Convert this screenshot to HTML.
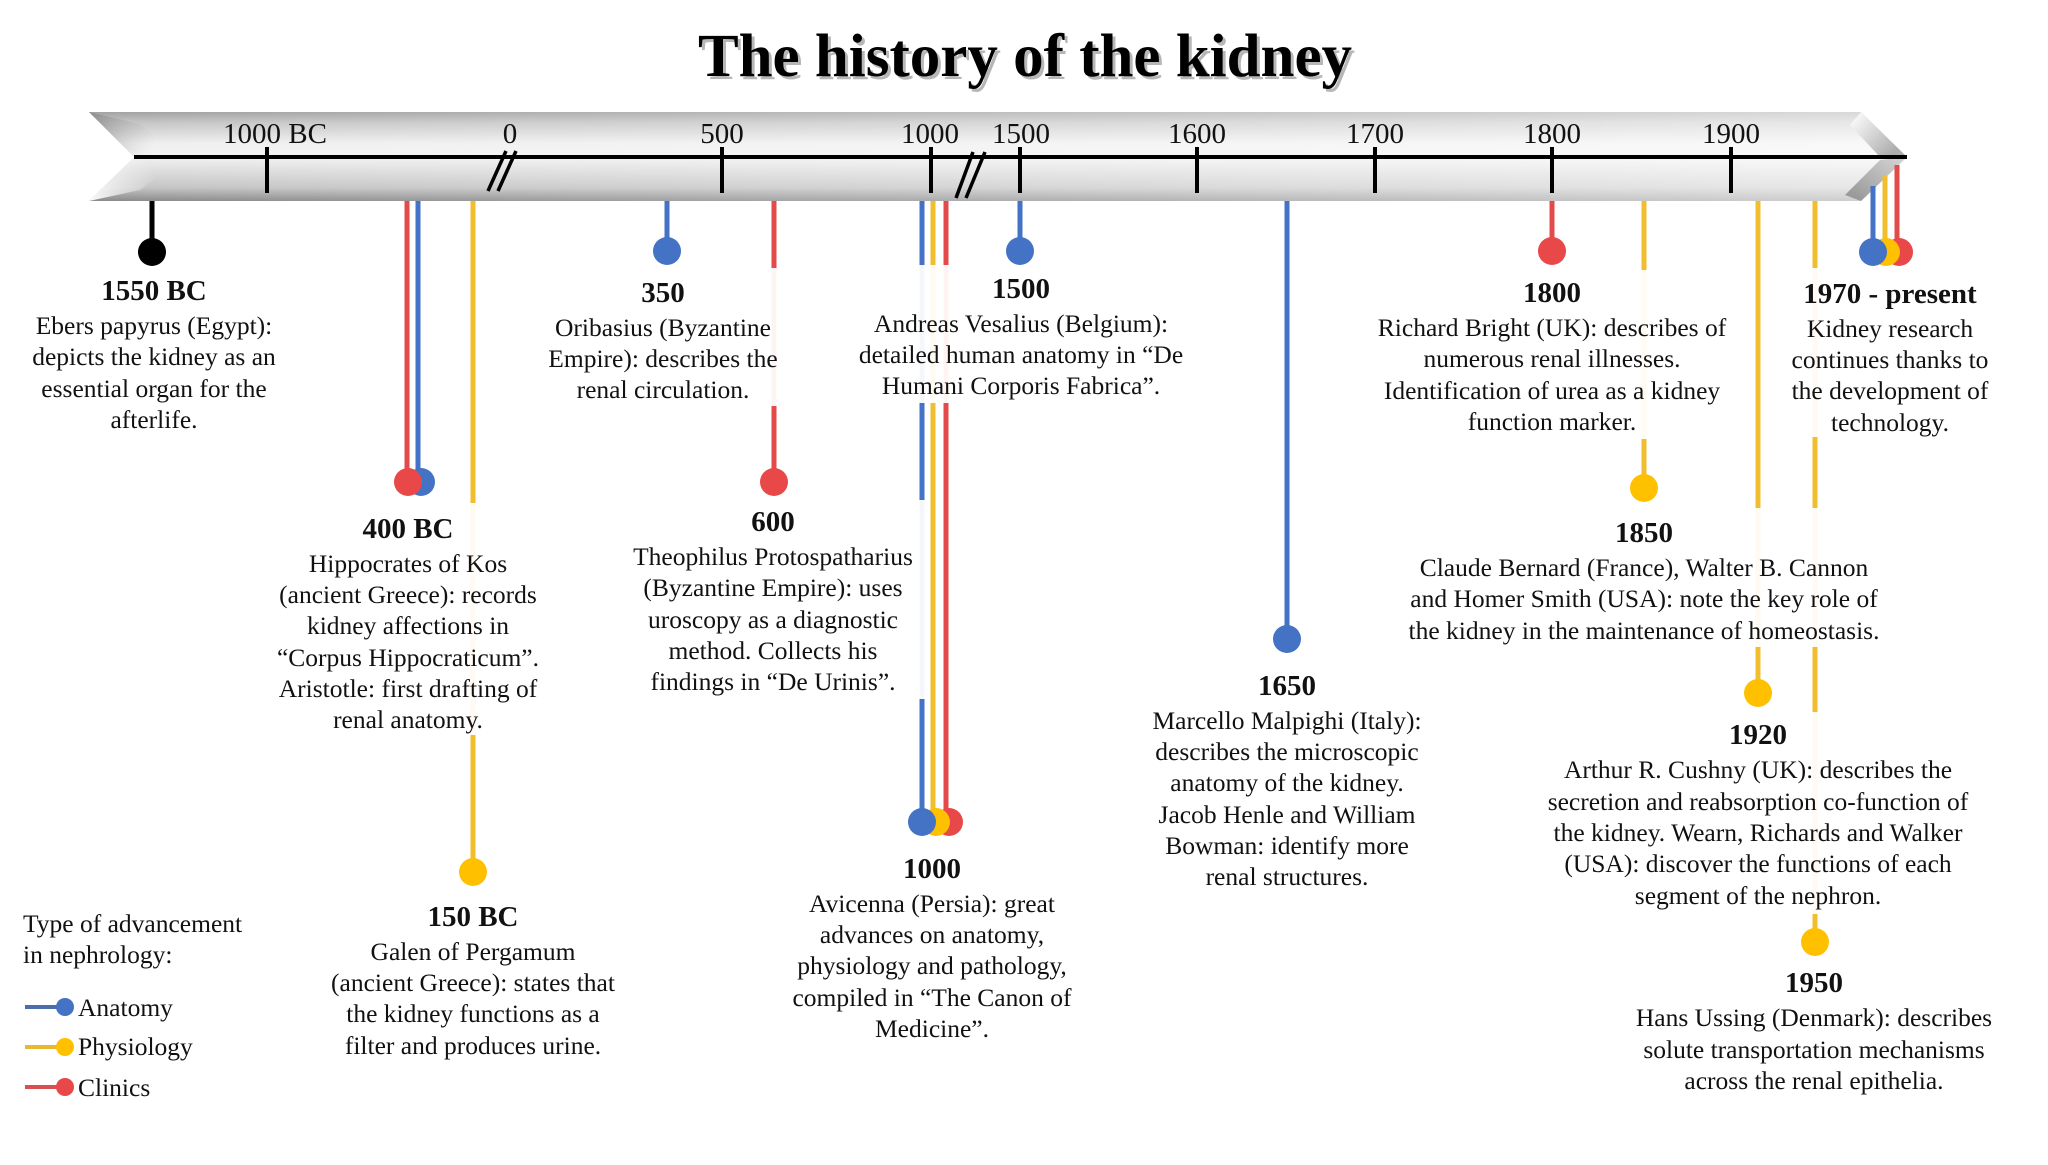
<!DOCTYPE html>
<html>
<head>
<meta charset="utf-8">
<style>
html,body{margin:0;padding:0;background:#fff;}
svg{display:block;}
text{font-family:"Liberation Serif","Times New Roman",serif;fill:#111;}
.t{font-size:25.5px;text-anchor:middle;}
.y{font-size:29px;font-weight:bold;text-anchor:middle;}
.a{font-size:29px;text-anchor:middle;}
.l{font-size:25.5px;}
</style>
</head>
<body>
<svg width="2048" height="1165" viewBox="0 0 2048 1165" xmlns="http://www.w3.org/2000/svg">
<defs>
  <linearGradient id="gv" x1="0" y1="112" x2="0" y2="201" gradientUnits="userSpaceOnUse">
    <stop offset="0" stop-color="#a2a2a2"/>
    <stop offset="0.12" stop-color="#c6c6c6"/>
    <stop offset="0.35" stop-color="#efefef"/>
    <stop offset="0.5" stop-color="#f2f2f2"/>
    <stop offset="0.62" stop-color="#e2e2e2"/>
    <stop offset="0.85" stop-color="#c4c4c4"/>
    <stop offset="1" stop-color="#8a8a8a"/>
  </linearGradient>
  <linearGradient id="gh" x1="89" y1="0" x2="1907" y2="0" gradientUnits="userSpaceOnUse">
    <stop offset="0" stop-color="#fff" stop-opacity="0"/>
    <stop offset="0.5" stop-color="#fff" stop-opacity="0.3"/>
    <stop offset="1" stop-color="#fff" stop-opacity="0.6"/>
  </linearGradient>
  <linearGradient id="gnu" x1="89" y1="112" x2="150" y2="150" gradientUnits="userSpaceOnUse">
    <stop offset="0" stop-color="#8c8c8c"/>
    <stop offset="1" stop-color="#c8c8c8" stop-opacity="0"/>
  </linearGradient>
  <linearGradient id="gnl" x1="89" y1="201" x2="150" y2="165" gradientUnits="userSpaceOnUse">
    <stop offset="0" stop-color="#ffffff"/>
    <stop offset="1" stop-color="#ffffff" stop-opacity="0"/>
  </linearGradient>
  <linearGradient id="ghu" x1="1860" y1="112" x2="1895" y2="150" gradientUnits="userSpaceOnUse">
    <stop offset="0" stop-color="#ffffff"/>
    <stop offset="1" stop-color="#9a9a9a"/>
  </linearGradient>
  <linearGradient id="ghl" x1="1900" y1="160" x2="1860" y2="201" gradientUnits="userSpaceOnUse">
    <stop offset="0" stop-color="#c8c8c8"/>
    <stop offset="1" stop-color="#8a8a8a"/>
  </linearGradient>
</defs>

<!-- Title -->
<text x="1028" y="79" font-size="61" font-weight="bold" text-anchor="middle" style="fill:#9a9a9a;opacity:0.7">The history of the kidney</text>
<text x="1025" y="76" font-size="61" font-weight="bold" text-anchor="middle" style="fill:#000">The history of the kidney</text>

<!-- Arrow -->
<polygon points="89,112 1861,112 1907,157 1861,201 89,201 134,157" fill="url(#gv)"/>
<polygon points="89,112 1861,112 1907,157 1861,201 89,201 134,157" fill="url(#gh)"/>
<polygon points="89,112 134,157 172,150 140,124" fill="url(#gnu)"/>
<polygon points="89,201 134,157 172,166 140,190" fill="url(#gnl)"/>
<polygon points="1861,112 1907,157 1880,157 1850,125" fill="url(#ghu)" opacity="0.8"/>
<polygon points="1907,157 1861,201 1845,195 1880,160" fill="url(#ghl)" opacity="0.8"/>

<!-- center line and ticks -->
<line x1="134" y1="157" x2="1907" y2="157" stroke="#000" stroke-width="4"/>
<g stroke="#000" stroke-width="4">
  <line x1="267" y1="147" x2="267" y2="193"/>
  <line x1="722" y1="147" x2="722" y2="193"/>
  <line x1="931" y1="147" x2="931" y2="193"/>
  <line x1="1020" y1="147" x2="1020" y2="193"/>
  <line x1="1197" y1="147" x2="1197" y2="193"/>
  <line x1="1375" y1="147" x2="1375" y2="193"/>
  <line x1="1552" y1="147" x2="1552" y2="193"/>
  <line x1="1731" y1="147" x2="1731" y2="193"/>
</g>
<g stroke="#000" stroke-width="3.5">
  <line x1="488" y1="191" x2="506" y2="151"/>
  <line x1="498" y1="191" x2="516" y2="151"/>
  <line x1="956" y1="198" x2="973" y2="152"/>
  <line x1="966" y1="198" x2="985" y2="152"/>
</g>
<text class="a" x="275" y="143">1000 BC</text>
<text class="a" x="510" y="143">0</text>
<text class="a" x="722" y="143">500</text>
<text class="a" x="930" y="143">1000</text>
<text class="a" x="1021" y="143">1500</text>
<text class="a" x="1197" y="143">1600</text>
<text class="a" x="1375" y="143">1700</text>
<text class="a" x="1552" y="143">1800</text>
<text class="a" x="1731" y="143">1900</text>

<!-- stems -->
<g stroke-width="5">
  <line x1="152" y1="201" x2="152" y2="252" stroke="#000"/>
  <line x1="407" y1="201" x2="407" y2="482" stroke="#E34A4A"/>
  <line x1="418" y1="201" x2="418" y2="482" stroke="#4472C4"/>
  <line x1="473" y1="201" x2="473" y2="872" stroke="#F0BE2E"/>
  <line x1="667" y1="201" x2="667" y2="251" stroke="#4472C4"/>
  <line x1="774" y1="201" x2="774" y2="482" stroke="#E34A4A"/>
  <line x1="922" y1="201" x2="922" y2="822" stroke="#4472C4"/>
  <line x1="933" y1="201" x2="933" y2="822" stroke="#F0BE2E"/>
  <line x1="946" y1="201" x2="946" y2="822" stroke="#E34A4A"/>
  <line x1="1020" y1="201" x2="1020" y2="251" stroke="#4472C4"/>
  <line x1="1287" y1="201" x2="1287" y2="639" stroke="#4472C4"/>
  <line x1="1552" y1="201" x2="1552" y2="251" stroke="#E34A4A"/>
  <line x1="1644" y1="201" x2="1644" y2="488" stroke="#F0BE2E"/>
  <line x1="1758" y1="201" x2="1758" y2="693" stroke="#F0BE2E"/>
  <line x1="1815" y1="201" x2="1815" y2="942" stroke="#F0BE2E"/>
  <line x1="1873" y1="186" x2="1873" y2="252" stroke="#4472C4"/>
  <line x1="1885" y1="176" x2="1885" y2="252" stroke="#F0BE2E"/>
  <line x1="1897" y1="165" x2="1897" y2="252" stroke="#E34A4A"/>
</g>

<!-- white text boxes (occlude stems) -->
<g fill="#fff" opacity="0.94">
  <rect x="268" y="503" width="280" height="232"/>
  <rect x="540" y="268" width="248" height="138"/>
  <rect x="622" y="500" width="306" height="199"/>
  <rect x="850" y="265" width="345" height="138"/>
  <rect x="1365" y="270" width="372" height="169"/>
  <rect x="1400" y="508" width="492" height="139"/>
  <rect x="1785" y="268" width="212" height="169"/>
  <rect x="1540" y="712" width="440" height="202"/>
</g>

<!-- circles -->
<circle cx="152" cy="252" r="14" fill="#000"/>
<circle cx="421" cy="482" r="14" fill="#4472C4"/>
<circle cx="408" cy="482" r="14" fill="#E84848"/>
<circle cx="473" cy="872" r="14" fill="#FFC000"/>
<circle cx="667" cy="251" r="14" fill="#4472C4"/>
<circle cx="774" cy="482" r="14" fill="#E84848"/>
<circle cx="949" cy="822" r="14" fill="#E84848"/>
<circle cx="936" cy="822" r="14" fill="#FFC000"/>
<circle cx="922" cy="822" r="14" fill="#4472C4"/>
<circle cx="1020" cy="251" r="14" fill="#4472C4"/>
<circle cx="1287" cy="639" r="14" fill="#4472C4"/>
<circle cx="1552" cy="251" r="14" fill="#E84848"/>
<circle cx="1644" cy="488" r="14" fill="#FFC000"/>
<circle cx="1758" cy="693" r="14" fill="#FFC000"/>
<circle cx="1815" cy="942" r="14" fill="#FFC000"/>
<circle cx="1899" cy="252" r="14" fill="#E84848"/>
<circle cx="1886" cy="252" r="14" fill="#FFC000"/>
<circle cx="1873" cy="252" r="14" fill="#4472C4"/>

<!-- 1550 BC -->
<text class="y" x="154" y="300">1550 BC</text>
<text class="t" x="154" y="334">Ebers papyrus (Egypt):</text>
<text class="t" x="154" y="365">depicts the kidney as an</text>
<text class="t" x="154" y="397">essential organ for the</text>
<text class="t" x="154" y="428">afterlife.</text>

<!-- 400 BC -->
<text class="y" x="408" y="538">400 BC</text>
<text class="t" x="408" y="572">Hippocrates of Kos</text>
<text class="t" x="408" y="603">(ancient Greece): records</text>
<text class="t" x="408" y="634">kidney affections in</text>
<text class="t" x="408" y="666">“Corpus Hippocraticum”.</text>
<text class="t" x="408" y="697">Aristotle: first drafting of</text>
<text class="t" x="408" y="728">renal anatomy.</text>

<!-- 150 BC -->
<text class="y" x="473" y="926">150 BC</text>
<text class="t" x="473" y="960">Galen of Pergamum</text>
<text class="t" x="473" y="991">(ancient Greece): states that</text>
<text class="t" x="473" y="1022">the kidney functions as a</text>
<text class="t" x="473" y="1054">filter and produces urine.</text>

<!-- 350 -->
<text class="y" x="663" y="302">350</text>
<text class="t" x="663" y="336">Oribasius (Byzantine</text>
<text class="t" x="663" y="367">Empire): describes the</text>
<text class="t" x="663" y="398">renal circulation.</text>

<!-- 600 -->
<text class="y" x="773" y="531">600</text>
<text class="t" x="773" y="565">Theophilus Protospatharius</text>
<text class="t" x="773" y="596">(Byzantine Empire): uses</text>
<text class="t" x="773" y="628">uroscopy as a diagnostic</text>
<text class="t" x="773" y="659">method. Collects his</text>
<text class="t" x="773" y="690">findings in “De Urinis”.</text>

<!-- 1000 -->
<text class="y" x="932" y="878">1000</text>
<text class="t" x="932" y="912">Avicenna (Persia): great</text>
<text class="t" x="932" y="943">advances on anatomy,</text>
<text class="t" x="932" y="974">physiology and pathology,</text>
<text class="t" x="932" y="1006">compiled in “The Canon of</text>
<text class="t" x="932" y="1037">Medicine”.</text>

<!-- 1500 -->
<text class="y" x="1021" y="298">1500</text>
<text class="t" x="1021" y="332">Andreas Vesalius (Belgium):</text>
<text class="t" x="1021" y="363">detailed human anatomy in “De</text>
<text class="t" x="1021" y="394">Humani Corporis Fabrica”.</text>

<!-- 1650 -->
<text class="y" x="1287" y="695">1650</text>
<text class="t" x="1287" y="729">Marcello Malpighi (Italy):</text>
<text class="t" x="1287" y="760">describes the microscopic</text>
<text class="t" x="1287" y="791">anatomy of the kidney.</text>
<text class="t" x="1287" y="823">Jacob Henle and William</text>
<text class="t" x="1287" y="854">Bowman: identify more</text>
<text class="t" x="1287" y="885">renal structures.</text>

<!-- 1800 -->
<text class="y" x="1552" y="302">1800</text>
<text class="t" x="1552" y="336">Richard Bright (UK): describes of</text>
<text class="t" x="1552" y="367">numerous renal illnesses.</text>
<text class="t" x="1552" y="399">Identification of urea as a kidney</text>
<text class="t" x="1552" y="430">function marker.</text>

<!-- 1850 -->
<text class="y" x="1644" y="542">1850</text>
<text class="t" x="1644" y="576">Claude Bernard (France), Walter B. Cannon</text>
<text class="t" x="1644" y="607">and Homer Smith (USA): note the key role of</text>
<text class="t" x="1644" y="639">the kidney in the maintenance of homeostasis.</text>

<!-- 1920 -->
<text class="y" x="1758" y="744">1920</text>
<text class="t" x="1758" y="778">Arthur R. Cushny (UK): describes the</text>
<text class="t" x="1758" y="810">secretion and reabsorption co-function of</text>
<text class="t" x="1758" y="841">the kidney. Wearn, Richards and Walker</text>
<text class="t" x="1758" y="872">(USA): discover the functions of each</text>
<text class="t" x="1758" y="904">segment of the nephron.</text>

<!-- 1950 -->
<text class="y" x="1814" y="992">1950</text>
<text class="t" x="1814" y="1026">Hans Ussing (Denmark): describes</text>
<text class="t" x="1814" y="1058">solute transportation mechanisms</text>
<text class="t" x="1814" y="1089">across the renal epithelia.</text>

<!-- 1970 - present -->
<text class="y" x="1890" y="303">1970 - present</text>
<text class="t" x="1890" y="337">Kidney research</text>
<text class="t" x="1890" y="368">continues thanks to</text>
<text class="t" x="1890" y="399">the development of</text>
<text class="t" x="1890" y="431">technology.</text>

<!-- Legend -->
<text class="l" x="23" y="932">Type of advancement</text>
<text class="l" x="23" y="963">in nephrology:</text>
<line x1="25" y1="1007" x2="62" y2="1007" stroke="#4a6ea8" stroke-width="4"/>
<circle cx="65" cy="1007" r="9" fill="#4472C4"/>
<text class="l" x="78" y="1016">Anatomy</text>
<line x1="25" y1="1047" x2="62" y2="1047" stroke="#E8B830" stroke-width="4"/>
<circle cx="65" cy="1047" r="9" fill="#FFC000"/>
<text class="l" x="78" y="1055">Physiology</text>
<line x1="25" y1="1087" x2="62" y2="1087" stroke="#D85050" stroke-width="4"/>
<circle cx="65" cy="1087" r="9" fill="#E84848"/>
<text class="l" x="78" y="1096">Clinics</text>
</svg>
</body>
</html>
